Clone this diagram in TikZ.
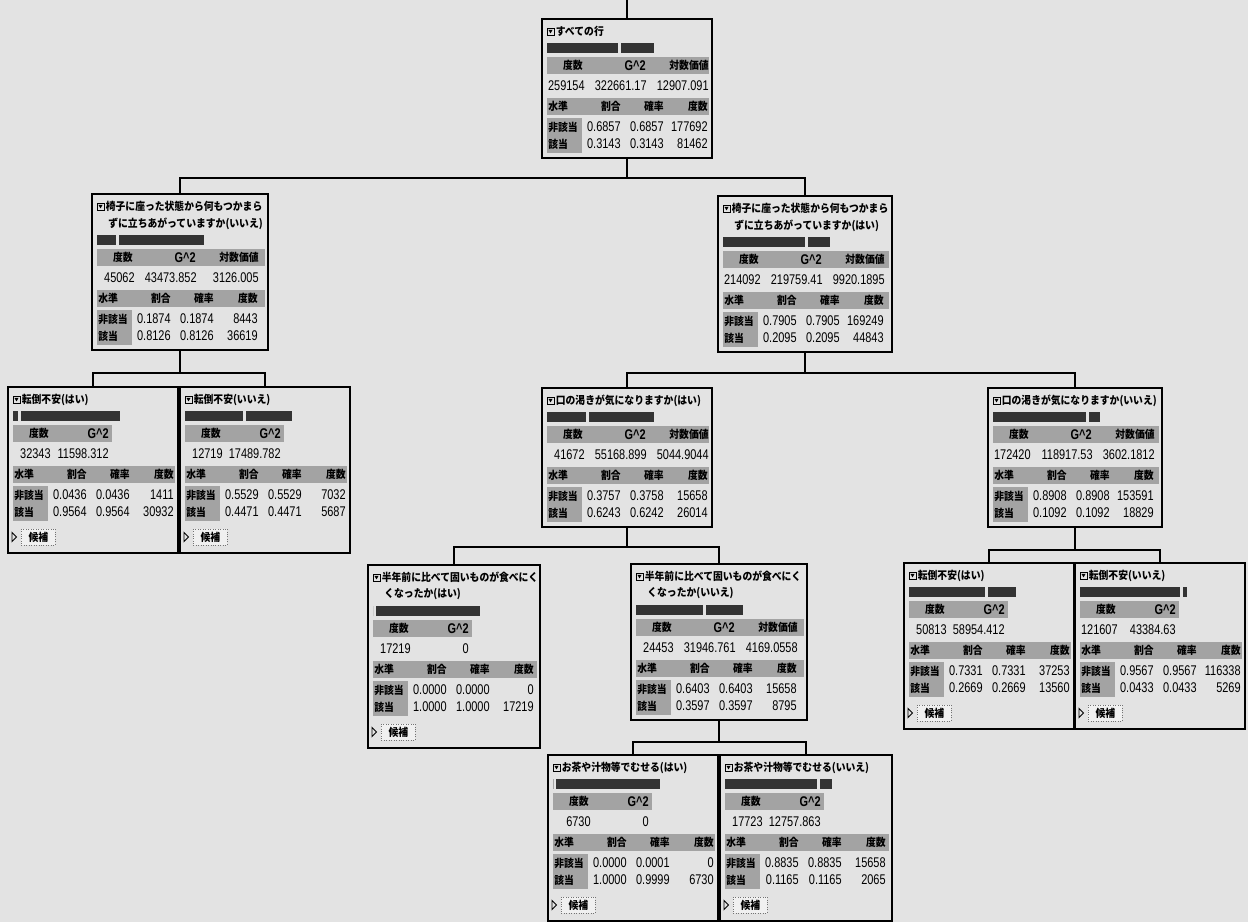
\documentclass[tikz,border=0pt]{standalone}
\usepackage{fontspec}
\setmainfont{Liberation Sans}
\newfontfamily\jp[FakeStretch=0.9]{Noto Sans CJK JP}
\newfontfamily\numf[FakeStretch=0.78]{Liberation Sans}
\usepackage{tikz}

\definecolor{paper}{gray}{0.89}
\definecolor{hdrgray}{gray}{0.64}
\definecolor{bargray}{gray}{0.2}

%% one partition box: name, centre x, top y, width, height
\newcommand\jbox[5]{%
  \def\pfx{#1}\def\bw{#4}%
  \node[box, anchor=north, minimum width={#4*0.02cm},
        minimum height={#5*0.02cm}] (#1) at (#2,#3) {};}
\newcommand\jtitle[1]{%
  \draw[line width=0.5pt] (5,9) rectangle (12,16);
  \fill (6.4,10.8) -- (10.6,10.8) -- (8.5,14.4) -- cycle;
  \node[ttl] (\pfx-t) at (13.5,12.5) {#1};}
\newcommand\jtitletwo[2]{%
  \jtitle{#1}
  \node[ttl] (\pfx-t2) at (16,29.5) {#2};}
\newcommand\jbars[2]{%
  \fill[bar] (5,24) rectangle ++({104*#1},10);
  \fill[bar] ({8+104*#1},24) rectangle ++({104*#2},10);}
\newcommand\jstatsthree[3]{%
  \fill[hdr] (5,38) rectangle (\bw-3,55);
  \node[hd, anchor=east] (\pfx-h1) at (41,46.5) {度数};
  \node[hdn] (\pfx-h2) at (104,46.5) {G\textasciicircum 2};
  \node[hd, anchor=east] (\pfx-h3) at (167,46.5) {対数価値};
  \node[num] (\pfx-v1) at (43,67) {#1};
  \node[num] (\pfx-v2) at (105,67) {#2};
  \node[num] (\pfx-v3) at (167,67) {#3};}
\newcommand\jstatstwo[2]{%
  \fill[hdr] (5,38) rectangle (104,55);
  \node[hd, anchor=east] (\pfx-h1) at (41,46.5) {度数};
  \node[hdn] (\pfx-h2) at (101,46.5) {G\textasciicircum 2};
  \node[num] (\pfx-v1) at (43,67) {#1};
  \node[num] (\pfx-v2) at (101,67) {#2};}
\newcommand\jlevels[6]{%
  \fill[hdr] (5,79) rectangle (\bw-3,96);
  \fill[hdr] (5,99) rectangle (40,134);
  \node[hd, anchor=west] (\pfx-l0) at (6,87.5) {水準};
  \node[hd, anchor=east] (\pfx-l1) at (79,87.5) {割合};
  \node[hd, anchor=east] (\pfx-l2) at (122,87.5) {確率};
  \node[hd, anchor=east] (\pfx-l3) at (166,87.5) {度数};
  \node[hd, anchor=west] (\pfx-na) at (6,108) {非該当};
  \node[hd, anchor=west] (\pfx-ap) at (6,125) {該当};
  \node[num] (\pfx-a1) at (79,108) {#1};
  \node[num] (\pfx-a2) at (122,108) {#2};
  \node[num] (\pfx-a3) at (166,108) {#3};
  \node[num] (\pfx-b1) at (79,125) {#4};
  \node[num] (\pfx-b2) at (122,125) {#5};
  \node[num] (\pfx-b3) at (166,125) {#6};}
\newcommand\jcands{%
  \draw[line width=0.5pt] (4,145.5) -- (8.5,150) -- (4,154.5) -- cycle;
  \node[btn, anchor=west] (\pfx-c) at (13,150) {候補};}

\begin{document}
\begin{tikzpicture}[
  x=0.02cm, y=-0.02cm,
  box/.style  = {draw=black, line width=0.9pt, inner sep=0pt, outer sep=0pt},
  link/.style = {line width=0.8pt},
  ttl/.style  = {font=\jp\bfseries\fontsize{6.2}{7}\selectfont, anchor=west, inner sep=0pt},
  hd/.style   = {font=\jp\bfseries\fontsize{6.2}{7}\selectfont, inner sep=0pt},
  hdn/.style  = {font=\numf\bfseries\fontsize{8}{9}\selectfont, anchor=east, inner sep=0pt},
  num/.style  = {font=\numf\fontsize{8}{9}\selectfont, anchor=east, inner sep=0pt},
  hdr/.style  = {fill=hdrgray},
  bar/.style  = {fill=bargray},
  btn/.style  = {hd, draw=black!55, densely dotted, fill=black!6,
                 minimum width=0.68cm, minimum height=0.32cm},
]
\fill[paper] (0,0) rectangle (1248,922);
\useasboundingbox (0,0) rectangle (1248,922);

%% ── Root ────────────────────────────────────────────────────────────────
\jbox{rows}{627}{19}{170}{139}
\begin{scope}[shift={(rows.north west)}]
  \jtitle{すべての行}
  \jbars{0.6857}{0.3143}
  \jstatsthree{259154}{322661.17}{12907.091}
  \jlevels{0.6857}{0.6857}{177692}{0.3143}{0.3143}{81462}
\end{scope}

%% ── First split: standing up from a chair ───────────────────────────────
\jbox{sitN}{180}{194}{176}{156}
\begin{scope}[shift={(sitN.north west)}]
  \jtitletwo{椅子に座った状態から何もつかまら}{ずに立ちあがっていますか(いいえ)}
  \begin{scope}[shift={(0,17)}]
    \jbars{0.1874}{0.8126}
    \jstatsthree{45062}{43473.852}{3126.005}
    \jlevels{0.1874}{0.1874}{8443}{0.8126}{0.8126}{36619}
  \end{scope}
\end{scope}

\jbox{sitY}{805}{196}{174}{156}
\begin{scope}[shift={(sitY.north west)}]
  \jtitletwo{椅子に座った状態から何もつかまら}{ずに立ちあがっていますか(はい)}
  \begin{scope}[shift={(0,17)}]
    \jbars{0.7905}{0.2095}
    \jstatsthree{214092}{219759.41}{9920.1895}
    \jlevels{0.7905}{0.7905}{169249}{0.2095}{0.2095}{44843}
  \end{scope}
\end{scope}

%% ── Left leaves: fear of falling ────────────────────────────────────────
\jbox{fearY1}{93}{387}{170}{166}
\begin{scope}[shift={(fearY1.north west)}]
  \jtitle{転倒不安(はい)}
  \jbars{0.0436}{0.9564}
  \jstatstwo{32343}{11598.312}
  \jlevels{0.0436}{0.0436}{1411}{0.9564}{0.9564}{30932}
  \jcands
\end{scope}

\jbox{fearN1}{265}{387}{170}{166}
\begin{scope}[shift={(fearN1.north west)}]
  \jtitle{転倒不安(いいえ)}
  \jbars{0.5529}{0.4471}
  \jstatstwo{12719}{17489.782}
  \jlevels{0.5529}{0.5529}{7032}{0.4471}{0.4471}{5687}
  \jcands
\end{scope}

%% ── Right branch: dry mouth ─────────────────────────────────────────────
\jbox{dryY}{627}{388}{170}{139}
\begin{scope}[shift={(dryY.north west)}]
  \jtitle{口の渇きが気になりますか(はい)}
  \jbars{0.3757}{0.6243}
  \jstatsthree{41672}{55168.899}{5044.9044}
  \jlevels{0.3757}{0.3758}{15658}{0.6243}{0.6242}{26014}
\end{scope}

\jbox{dryN}{1075}{388}{174}{139}
\begin{scope}[shift={(dryN.north west)}]
  \jtitle{口の渇きが気になりますか(いいえ)}
  \jbars{0.8908}{0.1092}
  \jstatsthree{172420}{118917.53}{3602.1812}
  \jlevels{0.8908}{0.8908}{153591}{0.1092}{0.1092}{18829}
\end{scope}

%% ── Hard food ───────────────────────────────────────────────────────────
\jbox{hardY}{454}{565}{172}{183}
\begin{scope}[shift={(hardY.north west)}]
  \jtitletwo{半年前に比べて固いものが食べにく}{くなったか(はい)}
  \begin{scope}[shift={(0,17)}]
    \jbars{0}{1}
    \jstatstwo{17219}{0}
    \jlevels{0.0000}{0.0000}{0}{1.0000}{1.0000}{17219}
    \jcands
  \end{scope}
\end{scope}

\jbox{hardN}{719}{564}{176}{156}
\begin{scope}[shift={(hardN.north west)}]
  \jtitletwo{半年前に比べて固いものが食べにく}{くなったか(いいえ)}
  \begin{scope}[shift={(0,17)}]
    \jbars{0.6403}{0.3597}
    \jstatsthree{24453}{31946.761}{4169.0558}
    \jlevels{0.6403}{0.6403}{15658}{0.3597}{0.3597}{8795}
  \end{scope}
\end{scope}

%% ── Right leaves: fear of falling ───────────────────────────────────────
\jbox{fearY2}{989}{563}{170}{166}
\begin{scope}[shift={(fearY2.north west)}]
  \jtitle{転倒不安(はい)}
  \jbars{0.7331}{0.2669}
  \jstatstwo{50813}{58954.412}
  \jlevels{0.7331}{0.7331}{37253}{0.2669}{0.2669}{13560}
  \jcands
\end{scope}

\jbox{fearN2}{1160}{563}{170}{166}
\begin{scope}[shift={(fearN2.north west)}]
  \jtitle{転倒不安(いいえ)}
  \jbars{0.9567}{0.0433}
  \jstatstwo{121607}{43384.63}
  \jlevels{0.9567}{0.9567}{116338}{0.0433}{0.0433}{5269}
  \jcands
\end{scope}

%% ── Choking on tea ──────────────────────────────────────────────────────
\jbox{teaY}{633}{755}{170}{166}
\begin{scope}[shift={(teaY.north west)}]
  \jtitle{お茶や汁物等でむせる(はい)}
  \jbars{0.0001}{0.9999}
  \jstatstwo{6730}{0}
  \jlevels{0.0000}{0.0001}{0}{1.0000}{0.9999}{6730}
  \jcands
\end{scope}

\jbox{teaN}{806}{755}{172}{166}
\begin{scope}[shift={(teaN.north west)}]
  \jtitle{お茶や汁物等でむせる(いいえ)}
  \jbars{0.8835}{0.1165}
  \jstatstwo{17723}{12757.863}
  \jlevels{0.8835}{0.8835}{15658}{0.1165}{0.1165}{2065}
  \jcands
\end{scope}

%% ── Connectors ──────────────────────────────────────────────────────────
\coordinate (top) at (627,0);
\coordinate (j1) at (0,178);
\coordinate (j2) at (0,373);
\coordinate (j3) at (0,547);
\coordinate (j4) at (0,550);
\coordinate (j5) at (0,742);

\draw[link] (top) -- (rows.north);
\draw[link] (rows.south) -- (rows.south |- j1) -| (sitN.north);
\draw[link] (rows.south |- j1) -| (sitY.north);
\draw[link] (sitN.south) -- (sitN.south |- j2) -| (fearY1.north);
\draw[link] (sitN.south |- j2) -| (fearN1.north);
\draw[link] (sitY.south) -- (sitY.south |- j2) -| (dryY.north);
\draw[link] (sitY.south |- j2) -| (dryN.north);
\draw[link] (dryY.south) -- (dryY.south |- j3) -| (hardY.north);
\draw[link] (dryY.south |- j3) -| (hardN.north);
\draw[link] (dryN.south) -- (dryN.south |- j4) -| (fearY2.north);
\draw[link] (dryN.south |- j4) -| (fearN2.north);
\draw[link] (hardN.south) -- (hardN.south |- j5) -| (teaY.north);
\draw[link] (hardN.south |- j5) -| (teaN.north);

\end{tikzpicture}
\end{document}
